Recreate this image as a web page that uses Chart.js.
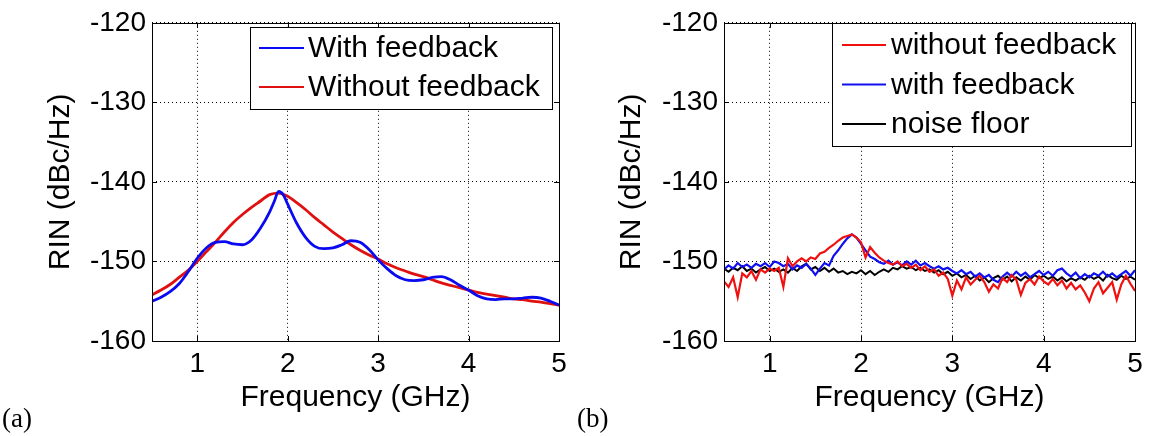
<!DOCTYPE html>
<html><head><meta charset="utf-8">
<script src="https://cdn.jsdelivr.net/npm/chart.js@4/dist/chart.umd.min.js"></script>
<style>
html,body{margin:0;padding:0;background:#fff;}
#wrap{position:relative;width:1152px;height:436px;overflow:hidden;background:#fff;}
.pane{position:absolute;top:0;width:576px;height:436px;}
.lab{position:absolute;font-family:"Liberation Serif","Times New Roman",serif;font-size:27px;color:#000;line-height:30px;}
</style></head><body>
<div id="wrap">
<div class="pane" style="left:0"><canvas id="ca" width="576" height="436"></canvas></div>
<div class="pane" style="left:576px"><canvas id="cb" width="576" height="436"></canvas></div>
<div class="lab" style="left:2px;top:403px">(a)</div>
<div class="lab" style="left:577px;top:403px">(b)</div>
</div>
<script>
// ---------- data: panel (a) ----------
const freqWithA = [0.5,0.6,0.7,0.8,0.9,1.0,1.1,1.2,1.3,1.4,1.5,1.6,1.7,1.8,1.85,1.9,1.95,2.0,2.1,2.2,2.3,2.4,2.5,2.6,2.7,2.8,2.9,3.0,3.1,3.2,3.3,3.4,3.5,3.6,3.7,3.8,3.9,4.0,4.1,4.2,4.3,4.4,4.5,4.6,4.7,4.8,4.9,5.0];
const rinWithA = [-155.0,-154.5,-153.8,-152.8,-151.3,-149.6,-148.3,-147.6,-147.5,-147.8,-147.9,-147.3,-145.8,-143.8,-142.5,-141.2,-141.6,-142.8,-145.2,-147.0,-148.1,-148.4,-148.3,-147.9,-147.4,-147.6,-148.5,-149.8,-150.9,-151.8,-152.3,-152.4,-152.3,-152.0,-151.9,-152.3,-153.0,-153.6,-154.3,-154.7,-154.8,-154.7,-154.7,-154.6,-154.5,-154.6,-155.0,-155.5];
const freqWithoutA = [0.5,0.6,0.7,0.8,0.9,1.0,1.1,1.2,1.3,1.4,1.5,1.6,1.7,1.8,1.9,2.0,2.1,2.2,2.3,2.4,2.5,2.6,2.7,2.8,2.9,3.0,3.1,3.2,3.3,3.4,3.5,3.6,3.7,3.8,3.9,4.0,4.1,4.2,4.3,4.4,4.5,4.6,4.7,4.8,4.9,5.0];
const rinWithoutA = [-154.2,-153.6,-152.9,-152.0,-151.1,-150.0,-148.8,-147.6,-146.3,-145.1,-144.1,-143.2,-142.4,-141.6,-141.4,-141.8,-142.6,-143.5,-144.5,-145.4,-146.3,-147.1,-147.9,-148.6,-149.2,-149.7,-150.3,-150.8,-151.2,-151.6,-151.9,-152.3,-152.7,-153.0,-153.3,-153.6,-153.9,-154.1,-154.3,-154.5,-154.7,-154.8,-155.0,-155.1,-155.3,-155.5];
const seriesNamesA = ['With feedback','Without feedback'];

// ---------- data: panel (b) ----------
const freqB = [0.50,0.55,0.60,0.65,0.70,0.75,0.80,0.85,0.90,0.95,1.00,1.05,1.10,1.15,1.20,1.25,1.30,1.35,1.40,1.45,1.50,1.55,1.60,1.65,1.70,1.75,1.80,1.85,1.90,1.95,2.00,2.05,2.10,2.15,2.20,2.25,2.30,2.35,2.40,2.45,2.50,2.55,2.60,2.65,2.70,2.75,2.80,2.85,2.90,2.95,3.00,3.05,3.10,3.15,3.20,3.25,3.30,3.35,3.40,3.45,3.50,3.55,3.60,3.65,3.70,3.75,3.80,3.85,3.90,3.95,4.00,4.05,4.10,4.15,4.20,4.25,4.30,4.35,4.40,4.45,4.50,4.55,4.60,4.65,4.70,4.75,4.80,4.85,4.90,4.95,5.00];
const rinWithoutB = [-152.5,-153.2,-152.0,-154.5,-151.5,-152.0,-151.2,-152.3,-151.0,-151.4,-150.9,-151.2,-150.8,-153.2,-149.6,-150.6,-150.0,-149.6,-150.0,-149.5,-149.7,-149.0,-148.8,-148.3,-147.9,-147.4,-147.0,-146.8,-146.6,-147.0,-147.6,-149.5,-148.2,-148.9,-149.5,-149.9,-150.2,-150.4,-150.0,-150.6,-150.3,-150.8,-150.4,-151.1,-150.6,-151.3,-151.0,-151.8,-151.4,-152.2,-154.3,-152.4,-153.5,-152.0,-152.9,-152.3,-151.8,-152.6,-153.8,-152.9,-153.4,-152.1,-152.6,-151.7,-152.3,-154.2,-152.7,-152.2,-152.9,-151.9,-152.5,-152.9,-152.2,-153.0,-152.4,-153.4,-152.7,-153.5,-153.0,-153.9,-155.0,-153.4,-152.6,-154.0,-153.3,-152.6,-154.8,-152.9,-151.8,-152.8,-153.7];
const rinWithB = [-151.0,-150.5,-150.9,-150.2,-150.7,-150.4,-150.8,-150.3,-150.6,-150.2,-150.7,-150.0,-150.2,-150.6,-150.3,-151.0,-150.5,-150.8,-150.3,-150.9,-151.7,-150.9,-150.2,-150.5,-149.3,-148.6,-147.8,-147.1,-146.6,-147.0,-147.8,-148.6,-149.4,-149.7,-150.1,-150.3,-149.9,-150.4,-150.1,-150.5,-150.0,-150.4,-149.9,-150.5,-150.2,-150.6,-150.9,-150.6,-151.0,-150.8,-151.2,-151.5,-151.1,-151.6,-151.3,-151.9,-151.5,-152.0,-151.7,-152.3,-152.6,-151.9,-151.4,-151.9,-151.3,-151.8,-151.4,-152.0,-151.6,-151.2,-151.7,-151.3,-151.8,-151.1,-150.9,-151.5,-151.9,-151.4,-152.1,-151.6,-152.0,-151.5,-151.8,-151.3,-151.9,-151.5,-152.0,-151.6,-151.2,-151.8,-151.1];
const rinNoiseB = [-150.9,-151.3,-150.8,-151.1,-150.6,-151.2,-150.9,-151.4,-151.0,-150.7,-151.2,-150.9,-151.3,-151.0,-151.4,-150.8,-151.2,-150.6,-150.3,-151.0,-150.7,-151.2,-150.8,-151.3,-150.9,-151.4,-151.2,-151.6,-151.3,-151.5,-151.1,-151.6,-151.2,-151.7,-151.3,-151.0,-151.3,-150.8,-151.0,-150.6,-150.9,-150.7,-151.1,-150.8,-151.2,-151.0,-151.4,-151.1,-151.6,-151.3,-151.8,-151.5,-152.0,-151.7,-152.2,-151.8,-152.4,-152.0,-152.6,-152.1,-151.8,-152.3,-151.9,-152.5,-152.0,-152.4,-151.9,-152.3,-151.7,-152.1,-151.8,-152.2,-151.9,-152.4,-152.0,-152.5,-152.1,-152.4,-152.0,-152.3,-151.8,-152.2,-151.9,-152.4,-151.7,-152.1,-152.3,-151.8,-152.2,-151.9,-152.3];
const seriesNamesB = ['without feedback','with feedback','noise floor'];

// ---------- shared axes ----------
const xTicks = [1,2,3,4,5];
const yTicks = [-160,-150,-140,-130,-120];
const xTitle = 'Frequency (GHz)';
const yTitle = 'RIN (dBc/Hz)';

const FONT = '"Liberation Sans", Arial, Helvetica, sans-serif';

function pts(xs, ys){ return xs.map((x,i)=>({x:x, y:ys[i]})); }

const matlabPlugin = {
  id: 'matlabBox',
  afterDatasetsDraw(chart, args, opts) {
    const ctx = chart.ctx, a = chart.chartArea, xs = chart.scales.x, ys = chart.scales.y;
    ctx.save();
    ctx.setLineDash([]);
    ctx.strokeStyle = '#000';
    ctx.lineWidth = 1;
    ctx.strokeRect(Math.round(a.left)+0.5, Math.round(a.top)+0.5, Math.round(a.right-a.left), Math.round(a.bottom-a.top));
    const t = 5;
    ctx.beginPath();
    xs.ticks.forEach(tk => {
      const p = Math.round(xs.getPixelForValue(tk.value)) + 0.5;
      ctx.moveTo(p, a.bottom); ctx.lineTo(p, a.bottom - t);
      ctx.moveTo(p, a.top); ctx.lineTo(p, a.top + t);
    });
    ys.ticks.forEach(tk => {
      const p = Math.round(ys.getPixelForValue(tk.value)) + 0.5;
      ctx.moveTo(a.left, p); ctx.lineTo(a.left + t, p);
      ctx.moveTo(a.right, p); ctx.lineTo(a.right - t, p);
    });
    ctx.stroke();
    const L = opts.legend;
    if (L) {
      ctx.fillStyle = '#fff';
      ctx.fillRect(L.x, L.y, L.w, L.h);
      ctx.strokeStyle = '#000';
      ctx.lineWidth = 1;
      ctx.strokeRect(L.x + 0.5, L.y + 0.5, L.w, L.h);
      ctx.font = L.fontSize + 'px ' + FONT;
      ctx.textBaseline = 'middle';
      ctx.textAlign = 'left';
      L.order.forEach((di, k) => {
        const ds = chart.data.datasets[di];
        const yy = L.y + L.firstRow + k * L.rowGap;
        ctx.strokeStyle = ds.borderColor;
        ctx.lineWidth = 2;
        ctx.beginPath();
        ctx.moveTo(L.x + L.lineX0, yy); ctx.lineTo(L.x + L.lineX1, yy);
        ctx.stroke();
        ctx.fillStyle = '#000';
        ctx.fillText(ds.label, L.x + L.textX, yy + 1);
      });
    }
    ctx.restore();
  }
};

function makeOptions(cfg) {
  return {
    responsive: false,
    animation: false,
    devicePixelRatio: 1,
    layout: { padding: { top: cfg.top, right: cfg.right, left: 0, bottom: 0 } },
    elements: { point: { radius: 0 } },
    plugins: {
      legend: { display: false },
      tooltip: { enabled: false },
      matlabBox: { legend: cfg.legend }
    },
    scales: {
      x: {
        type: 'linear', min: 0.5, max: 5,
        afterBuildTicks: s => { s.ticks = xTicks.map(v => ({ value: v })); },
        afterFit: s => { s.height = 436 - cfg.bottom; },
        ticks: { padding: 6, color: '#000', font: { family: FONT, size: 28 }, maxRotation: 0 },
        grid: { color: '#000', lineWidth: 1, drawTicks: false },
        border: { display: false, dash: [1, 3] },
        title: { display: true, text: xTitle, color: '#000', font: { family: FONT, size: 30 }, padding: { top: 0, bottom: 20 } }
      },
      y: {
        type: 'linear', min: -160, max: -120,
        afterBuildTicks: s => { s.ticks = yTicks.map(v => ({ value: v })); },
        afterFit: s => { s.width = cfg.left; },
        ticks: { padding: 6, color: '#000', font: { family: FONT, size: 28 } },
        grid: { color: '#000', lineWidth: 1, drawTicks: false },
        border: { display: false, dash: [1, 3] },
        title: { display: true, text: yTitle, color: '#000', font: { family: FONT, size: 30 }, padding: { top: cfg.yTitlePad, bottom: 0 } }
      }
    }
  };
}

new Chart(document.getElementById('ca'), {
  type: 'line',
  data: {
    datasets: [
      { label: seriesNamesA[0], data: pts(freqWithA, rinWithA), borderColor: '#0a0af0', borderWidth: 2.8, cubicInterpolationMode: 'monotone', fill: false },
      { label: seriesNamesA[1], data: pts(freqWithoutA, rinWithoutA), borderColor: '#e01010', borderWidth: 2.8, cubicInterpolationMode: 'monotone', fill: false }
    ]
  },
  options: makeOptions({ top: 19, right: 17, left: 152, bottom: 341, yTitlePad: 43,
    legend: { x: 250, y: 27, w: 302, h: 82, firstRow: 21, rowGap: 39, lineX0: 9, lineX1: 54, textX: 58, order: [0, 1], fontSize: 30 } }),
  plugins: [matlabPlugin]
});

new Chart(document.getElementById('cb'), {
  type: 'line',
  data: {
    datasets: [
      { label: seriesNamesB[0], data: pts(freqB, rinWithoutB), borderColor: '#f01010', borderWidth: 2.2, tension: 0, fill: false },
      { label: seriesNamesB[1], data: pts(freqB, rinWithB), borderColor: '#1010f0', borderWidth: 2.2, tension: 0, fill: false },
      { label: seriesNamesB[2], data: pts(freqB, rinNoiseB), borderColor: '#000000', borderWidth: 2, tension: 0, fill: false }
    ]
  },
  options: makeOptions({ top: 15, right: 17, left: 148, bottom: 341, yTitlePad: 38,
    legend: { x: 256, y: 23, w: 299, h: 123, firstRow: 22, rowGap: 39.5, lineX0: 10, lineX1: 54, textX: 59, order: [0, 1, 2], fontSize: 30 } }),
  plugins: [matlabPlugin]
});
</script>
</body></html>
